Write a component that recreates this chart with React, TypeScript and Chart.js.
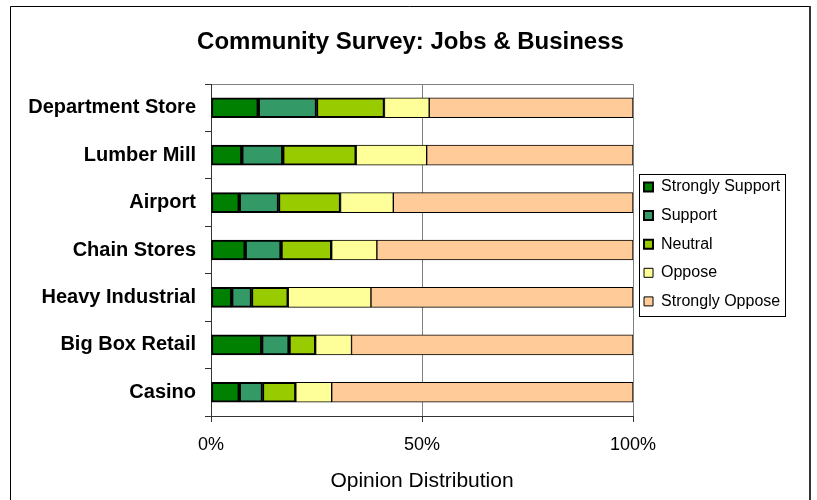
import React, { useEffect, useRef } from "react";
import { Chart, registerables } from "chart.js";

Chart.register(...registerables);

const categories = [
  "Department Store",
  "Lumber Mill",
  "Airport",
  "Chain Stores",
  "Heavy Industrial",
  "Big Box Retail",
  "Casino",
];
const stronglySupport = [11.2, 7.3, 6.7, 8.1, 4.9, 12.0, 6.7];
const support = [13.8, 9.7, 9.3, 8.5, 4.7, 6.5, 5.5];
const neutral = [16.1, 17.4, 14.7, 12.0, 8.7, 6.3, 7.9];
const oppose = [10.6, 16.7, 12.5, 10.7, 19.6, 8.5, 8.5];
const stronglyOppose = [48.3, 48.9, 56.8, 60.7, 62.1, 66.7, 71.4];
const xTicks = [0, 50, 100];

const FONT = "'Liberation Sans', Arial, sans-serif";

export default function App() {
  const ref = useRef<HTMLCanvasElement | null>(null);
  useEffect(() => {
    const canvas = ref.current;
    if (!canvas) return;
    const legendShift = { dx: -1.6, dy: -5.8 };
    const titleShiftX = 14.6;
    const decor = {
      id: "decor",
      beforeDraw(chart: any) {
        const ctx = chart.ctx;
        ctx.save();
        ctx.fillStyle = "#ffffff";
        ctx.fillRect(0, 0, chart.width, chart.height);
        ctx.restore();
      },
      afterLayout(chart: any) {
        const lg = chart.legend;
        if (lg) {
          lg.left += legendShift.dx;
          lg.right += legendShift.dx;
          lg.top += legendShift.dy;
          lg.bottom += legendShift.dy;
        }
        const tb = chart.titleBlock;
        if (tb) {
          tb.left += titleShiftX;
          tb.right += titleShiftX;
        }
      },
      afterDraw(chart: any) {
        const ctx = chart.ctx;
        ctx.save();
        // outer frame
        ctx.strokeStyle = "#000";
        ctx.lineWidth = 1;
        ctx.beginPath();
        ctx.moveTo(10.5, 600);
        ctx.lineTo(10.5, 6.5);
        ctx.lineTo(809, 6.5);
        ctx.stroke();
        ctx.strokeStyle = "#333";
        ctx.lineWidth = 2;
        ctx.beginPath();
        ctx.moveTo(810, 6);
        ctx.lineTo(810, 600);
        ctx.stroke();
        // legend frame
        const lg = chart.legend;
        const hb = lg && lg.legendHitBoxes;
        if (hb && hb.length) {
          let right = 0;
          hb.forEach((h: any) => (right = Math.max(right, h.left + h.width)));
          const l = Math.round(hb[0].left - 5) + 0.5;
          const t = Math.round(hb[0].top - 5) + 0.5;
          const last = hb[hb.length - 1];
          const r = Math.round(right + 5) + 0.5;
          const b = Math.round(last.top + last.height + 7) + 0.5;
          ctx.strokeStyle = "#000";
          ctx.lineWidth = 1;
          ctx.strokeRect(l, t, r - l, b - t);
        }
        ctx.restore();
      },
    };

    const chart = new Chart(canvas, {
      type: "bar",
      data: {
        labels: categories,
        datasets: [
          { label: "Strongly Support", data: stronglySupport, backgroundColor: "#008000", borderColor: "#000", borderWidth: 2 },
          { label: "Support", data: support, backgroundColor: "#339966", borderColor: "#000", borderWidth: 2 },
          { label: "Neutral", data: neutral, backgroundColor: "#99CC00", borderColor: "#000", borderWidth: 2 },
          { label: "Oppose", data: oppose, backgroundColor: "#FFFF99", borderColor: "#000", borderWidth: 1 },
          { label: "Strongly Oppose", data: stronglyOppose, backgroundColor: "#FFCC99", borderColor: "#000", borderWidth: 1 },
        ].map((d) => ({ ...d, borderSkipped: false, barThickness: 20 })),
      },
      plugins: [decor],
      options: {
        indexAxis: "y",
        responsive: false,
        animation: false,
        devicePixelRatio: 1,
        events: [],
        layout: { padding: { top: 0, left: 0, right: 25.2, bottom: 6.4 } },
        scales: {
          x: {
            stacked: true,
            min: 0,
            max: 100,
            afterBuildTicks: (scale: any) => {
              scale.ticks = xTicks.map((v) => ({ value: v }));
            },
            afterFit: (scale: any) => {
              scale.height = 77.6;
            },
            ticks: {
              callback: (v: any) => `${v}%`,
              color: "#000",
              font: { family: FONT, size: 18 },
              padding: 12,
              maxRotation: 0,
            },
            grid: {
              color: "#808080",
              tickColor: "#333",
              tickLength: 6,
              lineWidth: 1,
            },
            border: { display: true, color: "#333", width: 1 },
            title: {
              display: true,
              text: "Opinion Distribution",
              color: "#000",
              font: { family: FONT, size: 21 },
              padding: { top: 12.8, bottom: 0 },
            },
          },
          y: {
            stacked: true,
            afterFit: (scale: any) => {
              scale.width = 211;
            },
            ticks: {
              color: "#000",
              font: { family: FONT, size: 20, weight: "bold" },
              padding: 9,
            },
            grid: {
              color: (c: any) => (c.type === "scale" || c.index === 0 ? "#808080" : "rgba(0,0,0,0)"),
              tickColor: "#333",
              tickLength: 6,
              lineWidth: 1,
            },
            border: { display: true, color: "#333", width: 1 },
          },
        },
        plugins: {
          title: {
            display: true,
            text: "Community Survey: Jobs & Business",
            color: "#000",
            font: { family: FONT, size: 24, weight: "bold" },
            padding: { top: 27.6, bottom: 27.6 },
          },
          legend: {
            position: "right",
            fullSize: false,
            align: "center",
            labels: {
              color: "#000",
              font: { family: FONT, size: 16 },
              boxWidth: 9,
              boxHeight: 9,
              padding: 12.6,
            },
          },
          tooltip: { enabled: false },
        },
      },
    } as any);
    return () => chart.destroy();
  }, []);
  return (
    <canvas
      ref={ref}
      width={817}
      height={500}
      style={{ position: "fixed", left: 0, top: 0, width: 817, height: 500 }}
    />
  );
}
